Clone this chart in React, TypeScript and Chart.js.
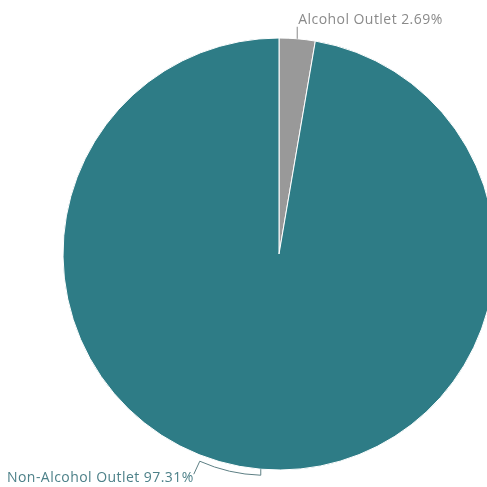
import React, { useEffect, useRef } from "react";
import { Chart, registerables } from "chart.js";

Chart.register(...registerables);

const categories = ["Alcohol Outlet", "Non-Alcohol Outlet"];
const values = [2.69, 97.31];
const sliceColors = ["#999999", "#2e7c86"];
const labelColors = ["#8a8a8a", "#4d8189"];
const leaderColors = ["#8a8a8a", "#5d7f84"];

const labelPlugin = {
  id: "outerLabels",
  afterDatasetsDraw(chart: any) {
    const ctx = chart.ctx;
    const meta = chart.getDatasetMeta(0);
    ctx.save();
    ctx.font = "14px 'Open Sans', sans-serif";
    try {
      (ctx as any).letterSpacing = "0.45px";
    } catch (e) {}
    ctx.lineWidth = 1;
    meta.data.forEach((arc: any, i: number) => {
      const { x, y, startAngle, endAngle, outerRadius } = arc.getProps(
        ["x", "y", "startAngle", "endAngle", "outerRadius"],
        true
      );
      const a = (startAngle + endAngle) / 2;
      const px = x + outerRadius * Math.cos(a);
      const py = y + outerRadius * Math.sin(a);
      const text = `${categories[i]} ${values[i].toFixed(2)}%`;
      ctx.strokeStyle = leaderColors[i];
      ctx.fillStyle = labelColors[i];
      ctx.textBaseline = "middle";
      ctx.beginPath();
      if (Math.sin(a) < 0) {
        ctx.moveTo(px, py);
        ctx.lineTo(px, py - 12);
        ctx.stroke();
        ctx.textAlign = "left";
        ctx.fillText(text, px + 1, py - 19);
      } else {
        ctx.moveTo(px, py);
        ctx.lineTo(px, py + 6);
        ctx.quadraticCurveTo(px - 32, py + 5, px - 61, py - 8);
        ctx.lineTo(px - 67, py + 5);
        ctx.stroke();
        ctx.textAlign = "right";
        ctx.fillText(text, px - 67, py + 9);
      }
    });
    ctx.restore();
  },
};

export default function App() {
  const ref = useRef<HTMLCanvasElement>(null);
  useEffect(() => {
    if (!ref.current) return;
    const chart = new Chart(ref.current, {
      type: "pie",
      data: {
        labels: categories,
        datasets: [
          {
            data: values,
            backgroundColor: sliceColors,
            borderColor: "#ffffff",
            borderWidth: 1,
            hoverOffset: 0,
            radius: 216,
          } as any,
        ],
      },
      options: {
        animation: false,
        responsive: false,
        maintainAspectRatio: false,
        devicePixelRatio: 1,
        layout: { padding: { left: 63, right: 63, top: 38, bottom: 17 } },
        plugins: {
          legend: { display: false },
          tooltip: { enabled: false },
        },
      } as any,
      plugins: [labelPlugin],
    });
    return () => chart.destroy();
  }, []);
  return (
    <div
      style={{
        position: "fixed",
        left: 0,
        top: 0,
        width: 487,
        height: 487,
        overflow: "hidden",
        background: "#ffffff",
      }}
    >
      <canvas ref={ref} width={558} height={487} style={{ width: 558, height: 487 }} />
    </div>
  );
}
